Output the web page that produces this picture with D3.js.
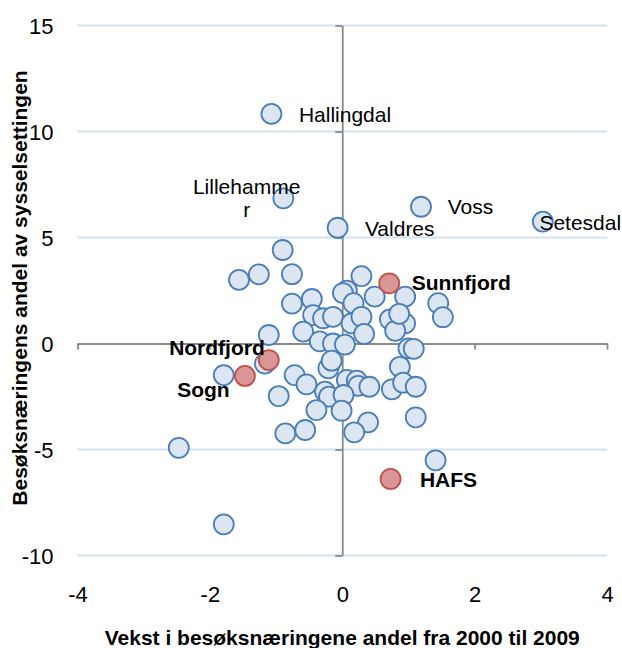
<!DOCTYPE html>
<html>
<head>
<meta charset="utf-8">
<script src="https://cdn.jsdelivr.net/npm/d3@7"></script>
<style>
  html, body { margin: 0; padding: 0; background: #fff; }
  svg { display: block; font-family: Arial, "Liberation Sans", sans-serif; }
</style>
</head>
<body>
<svg id="chart" width="622" height="648"></svg>
<script>
// Regions that carry a name label
const namedRegions = ["Hallingdal", "Lillehammer", "Valdres", "Voss", "Setesdal", "Sunnfjord", "Nordfjord", "Sogn", "HAFS"];
const namedX = [-1.07, -0.89, -0.07, 1.19, 3.03, 0.71, -1.11, -1.47, 0.73];
const namedY = [10.83, 6.85, 5.46, 6.45, 5.75, 2.84, -0.78, -1.53, -6.39];
// Regions drawn in red with bold labels
const highlighted = ["Sunnfjord", "Nordfjord", "Sogn", "HAFS"];

// Remaining regions (unlabelled)
const otherX = [-0.90, -1.56, -1.26, -0.76, 0.29, 0.07, 0.01, 0.49, 0.95, -0.76, -0.46, 0.17, 0.72, 0.95, 0.80, 0.86,
  -0.44, -0.29, -0.14, 0.14, 0.29, -0.59, 0.33, -0.34, -0.14, 0.04, 1.45, 1.52, 1.00, 1.08, -1.11, -1.17,
  -1.79, -0.72, -0.54, -0.21, -0.16, 0.87, 0.07, 0.22, 0.24, 0.41, 0.75, 0.92, 1.11, -0.26, -0.20, 0.02,
  -0.39, -0.01, -0.96, 1.11, 0.39, 0.18, -0.56, -0.86, -2.47, -1.79, 1.41];
const otherY = [4.41, 3.00, 3.26, 3.27, 3.18, 2.49, 2.38, 2.21, 2.21, 1.88, 2.10, 1.90, 1.14, 0.95, 0.60, 1.40,
  1.34, 1.19, 1.26, 0.95, 1.26, 0.56, 0.45, 0.10, 0.00, -0.05, 1.90, 1.24, -0.23, -0.25, 0.40, -0.95,
  -1.49, -1.49, -1.93, -1.17, -0.81, -1.10, -1.72, -1.75, -2.00, -2.04, -2.16, -1.85, -2.04, -2.27, -2.51, -2.43,
  -3.14, -3.17, -2.48, -3.48, -3.72, -4.19, -4.08, -4.24, -4.92, -8.53, -5.51];

// Axis ticks
const xTicks = [-4, -2, 0, 2, 4];
const yTicks = [-10, -5, 0, 5, 10, 15];
const xTitle = "Vekst i besøksnæringene andel fra 2000 til 2009";
const yTitle = "Besøksnæringens andel av sysselsettingen";

// Label placement (pixel offsets from the marker centre)
const labelLayout = {
  Hallingdal:  { anchor: "start", dx: 27.5, dy: 7.8 },
  Lillehammer: { anchor: "middle", dx: -36.7, dy: -4, lines: ["Lillehamme", "r"] },
  Valdres:     { anchor: "start", dx: 27.3, dy: 7.8 },
  Voss:        { anchor: "start", dx: 26.7, dy: 7.5 },
  Setesdal:    { anchor: "start", dx: -3.4, dy: 8.4 },
  Sunnfjord:   { anchor: "start", dx: 22.4, dy: 6.7 },
  Nordfjord:   { anchor: "end", dx: -4, dy: -5 },
  Sogn:        { anchor: "end", dx: -15.3, dy: 21.3 },
  HAFS:        { anchor: "start", dx: 29.4, dy: 7.7 }
};

const svg = d3.select("#chart");
const x = d3.scaleLinear().domain([-4, 4]).range([77.5, 607]);
const y = d3.scaleLinear().domain([-10, 15]).range([555.5, 25.5]);

const gridColor = "#d6e1ef";
const axisColor = "#8a8a8a";
const tickFont = 22;
const labelFont = 21;
const plainNumber = d => String(d);   // hyphen-minus, as in the source chart

// Horizontal gridlines
svg.append("g")
  .selectAll("line")
  .data(yTicks.filter(d => d !== 0))
  .join("line")
  .attr("x1", x(-4)).attr("x2", x(4))
  .attr("y1", d => y(d)).attr("y2", d => y(d))
  .attr("stroke", gridColor).attr("stroke-width", 1.8);

// Axis lines crossing at zero
const xAxisLine = svg.append("g")
  .attr("transform", `translate(0,${y(0)})`)
  .call(d3.axisBottom(x).tickValues(xTicks).tickSize(6).tickSizeOuter(0).tickFormat(""));
const yAxisLine = svg.append("g")
  .attr("transform", `translate(${x(0)},0)`)
  .call(d3.axisLeft(y).tickValues(yTicks).tickSize(7).tickSizeOuter(0).tickFormat(""));
[xAxisLine, yAxisLine].forEach(g => {
  g.selectAll("path, line").attr("stroke", axisColor).attr("stroke-width", 1.8);
});

// Tick labels at the outer edges of the plot
const xLabels = svg.append("g")
  .attr("transform", `translate(0,${y(-10)})`)
  .call(d3.axisBottom(x).tickValues(xTicks).tickSize(0).tickPadding(30).tickFormat(plainNumber));
const yLabels = svg.append("g")
  .attr("transform", `translate(${x(-4)},0)`)
  .call(d3.axisLeft(y).tickValues(yTicks).tickSize(0).tickPadding(24).tickFormat(plainNumber));
[xLabels, yLabels].forEach(g => {
  g.select(".domain").remove();
  g.selectAll("text")
    .attr("font-family", "Arial, 'Liberation Sans', sans-serif")
    .attr("font-size", tickFont)
    .attr("fill", "#000");
});
xLabels.selectAll("text").attr("dy", null).attr("y", 0)
  .attr("transform", `translate(0,${602 - y(-10)})`);
yLabels.selectAll("text").attr("dy", "0.36em");

// Axis titles
svg.append("text")
  .attr("x", x(0)).attr("y", 645)
  .attr("text-anchor", "middle")
  .attr("font-weight", "bold").attr("font-size", labelFont)
  .text(xTitle);
svg.append("text")
  .attr("transform", `translate(27,${288}) rotate(-90)`)
  .attr("text-anchor", "middle")
  .attr("font-weight", "bold").attr("font-size", labelFont)
  .text(yTitle);

// Markers
const blueFill = "#dce6f2", blueStroke = "#4a7ebb";
const redFill = "#d99694", redStroke = "#c0504d";
const r = 10;

const others = otherX.map((v, i) => ({ x: v, y: otherY[i] }));
const named = namedRegions.map((n, i) => ({ name: n, x: namedX[i], y: namedY[i], hl: highlighted.includes(n) }));

svg.append("g")
  .selectAll("circle")
  .data(others.concat(named.filter(d => !d.hl)))
  .join("circle")
  .attr("cx", d => x(d.x)).attr("cy", d => y(d.y)).attr("r", r)
  .attr("fill", blueFill).attr("stroke", blueStroke).attr("stroke-width", 1.8);

svg.append("g")
  .selectAll("circle")
  .data(named.filter(d => d.hl))
  .join("circle")
  .attr("cx", d => x(d.x)).attr("cy", d => y(d.y)).attr("r", r)
  .attr("fill", redFill).attr("stroke", redStroke).attr("stroke-width", 1.8);

// Name labels
const lbl = svg.append("g")
  .selectAll("text")
  .data(named)
  .join("text")
  .attr("x", d => x(d.x) + labelLayout[d.name].dx)
  .attr("y", d => y(d.y) + labelLayout[d.name].dy)
  .attr("text-anchor", d => labelLayout[d.name].anchor)
  .attr("font-size", labelFont)
  .attr("font-weight", d => d.hl ? "bold" : "normal")
  .attr("fill", "#000");

lbl.each(function (d) {
  const lay = labelLayout[d.name];
  const t = d3.select(this);
  if (lay.lines) {
    lay.lines.forEach((ln, i) => {
      t.append("tspan")
        .attr("x", x(d.x) + lay.dx)
        .attr("dy", i === 0 ? 0 : 22.4)
        .text(ln);
    });
  } else {
    t.text(d.name);
  }
});
</script>
</body>
</html>
